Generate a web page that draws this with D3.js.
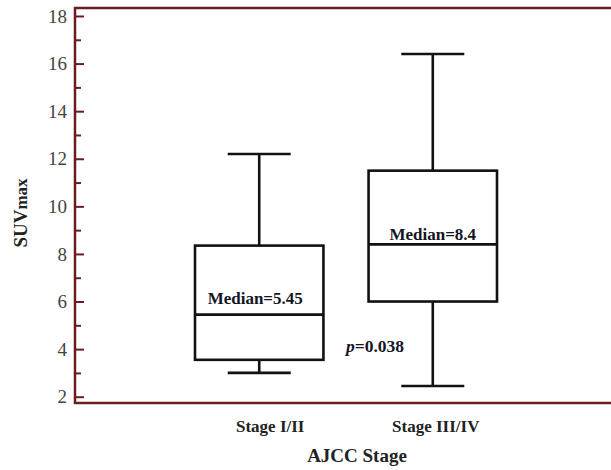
<!DOCTYPE html>
<html><head><meta charset="utf-8">
<script src="https://cdn.jsdelivr.net/npm/d3@7"></script>
<style>body{margin:0;background:#fff}svg{display:block}</style>
</head><body>
<svg id="chart" width="611" height="470"></svg>
<script>
const categories = ["Stage I/II", "Stage III/IV"];
const whiskerLow  = [3.0, 2.45];
const q1          = [3.55, 6.0];
const median      = [5.45, 8.4];
const q3          = [8.35, 11.5];
const whiskerHigh = [12.2, 16.4];
const medianLabels = ["Median=5.45", "Median=8.4"];
const yTicks = [2, 4, 6, 8, 10, 12, 14, 16, 18];
const yMinorTicks = [3, 5, 7, 9, 11, 13, 15, 17];
const pValue = "0.038";

const svg = d3.select("#chart");
const frame = {left: 75, top: 8, right: 616, bottom: 403};
const y = d3.scaleLinear().domain([2, 18]).range([396.7, 16]);
const x = d3.scaleBand().domain(categories).range([195, 497]).paddingInner(0.26).paddingOuter(0);
const serif = "'Liberation Serif','Times New Roman',serif";
const frameColor = "#6b1c1f";

// frame
svg.append("rect").attr("x", frame.left).attr("y", frame.top)
  .attr("width", frame.right - frame.left).attr("height", frame.bottom - frame.top)
  .attr("fill", "none").attr("stroke", frameColor).attr("stroke-width", 2.5);

// y axis (ticks inward)
const yAxis = d3.axisRight(y).tickValues(yTicks).tickSize(9).tickFormat("");
const ga = svg.append("g").attr("transform", `translate(${frame.left},0)`).call(yAxis);
ga.select(".domain").remove();
ga.selectAll("line").attr("stroke", frameColor).attr("stroke-width", 2);
const yMinor = d3.axisRight(y).tickValues(yMinorTicks).tickSize(6).tickFormat("");
const gm = svg.append("g").attr("transform", `translate(${frame.left},0)`).call(yMinor);
gm.select(".domain").remove();
gm.selectAll("line").attr("stroke", frameColor).attr("stroke-width", 2);
// tick labels
svg.append("g").selectAll("text").data(yTicks).join("text")
  .attr("x", 67).attr("y", d => y(d)).attr("dy", "0.35em")
  .attr("text-anchor", "end").attr("font-family", serif).attr("font-size", 19)
  .attr("fill", "#444").text(d => d);

// boxes
const cap = 63;
const labelGap = [11, 4];
const g = svg.append("g").attr("stroke", "#111").attr("stroke-width", 2.6).attr("fill", "none");
categories.forEach((c, i) => {
  const x0 = x(c), bw = x.bandwidth(), cx = x0 + bw / 2;
  g.append("line").attr("x1", cx).attr("x2", cx).attr("y1", y(whiskerHigh[i])).attr("y2", y(q3[i]));
  g.append("line").attr("x1", cx).attr("x2", cx).attr("y1", y(q1[i])).attr("y2", y(whiskerLow[i]));
  g.append("line").attr("x1", cx - cap / 2).attr("x2", cx + cap / 2).attr("y1", y(whiskerHigh[i])).attr("y2", y(whiskerHigh[i]));
  g.append("line").attr("x1", cx - cap / 2).attr("x2", cx + cap / 2).attr("y1", y(whiskerLow[i])).attr("y2", y(whiskerLow[i]));
  g.append("rect").attr("x", x0).attr("y", y(q3[i])).attr("width", bw).attr("height", y(q1[i]) - y(q3[i]));
  g.append("line").attr("x1", x0).attr("x2", x0 + bw).attr("y1", y(median[i])).attr("y2", y(median[i]));
  svg.append("text").attr("x", cx - 4 * (1 - i)).attr("y", y(median[i]) - labelGap[i])
    .attr("text-anchor", "middle").attr("font-family", serif).attr("font-weight", "bold")
    .attr("font-size", 17).attr("fill", "#151525").text(medianLabels[i]);
  svg.append("text").attr("x", cx + (i === 0 ? 11 : 3)).attr("y", 432)
    .attr("text-anchor", "middle").attr("font-family", serif).attr("font-weight", "bold")
    .attr("font-size", 17).attr("fill", "#222").text(c);
});

// p value
const pt = svg.append("text").attr("x", 346).attr("y", 352)
  .attr("font-family", serif).attr("font-weight", "bold").attr("font-size", 17.5).attr("fill", "#151525");
pt.append("tspan").attr("font-style", "italic").text("p");
pt.append("tspan").text("=" + pValue);

// axis titles
svg.append("text").attr("x", 357).attr("y", 462).attr("text-anchor", "middle")
  .attr("font-family", serif).attr("font-weight", "bold").attr("font-size", 19)
  .attr("fill", "#222").text("AJCC Stage");
const yt = svg.append("text").attr("transform", "translate(27,213) rotate(-90)")
  .attr("text-anchor", "middle").attr("font-family", serif).attr("font-weight", "bold")
  .attr("font-size", 19).attr("fill", "#222");
yt.append("tspan").text("SUV");
yt.append("tspan").attr("font-size", 17).text("max");
</script>
</body></html>
